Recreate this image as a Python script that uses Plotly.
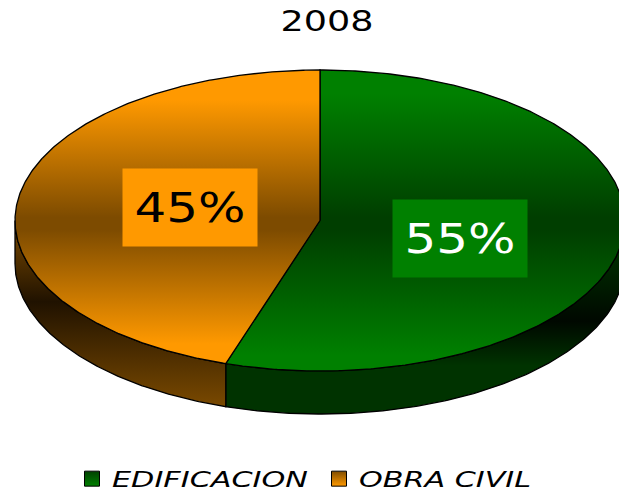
import numpy as np
import plotly.graph_objects as go

categories = ["EDIFICACION", "OBRA CIVIL"]
shares = [55, 45]
title_text = "2008"

top_scales = [
    [[0, "rgb(0,128,0)"], [0.08, "rgb(0,128,0)"], [0.49, "rgb(0,62,0)"], [0.53, "rgb(0,62,0)"], [0.95, "rgb(0,128,0)"], [1, "rgb(0,128,0)"]],
    [[0, "rgb(255,153,0)"], [0.1, "rgb(255,153,0)"], [0.49, "rgb(125,75,0)"], [0.53, "rgb(125,75,0)"], [0.91, "rgb(255,153,0)"], [1, "rgb(255,153,0)"]],
]
side_scales = [
    [[0, "rgb(0,64,0)"], [0.52, "rgb(0,8,0)"], [0.75, "rgb(0,51,0)"], [1, "rgb(0,51,0)"]],
    [[0, "rgb(128,77,0)"], [0.42, "rgb(32,18,0)"], [1, "rgb(128,77,0)"]],
]
legend_colors = ["rgb(0,128,0)", "rgb(255,153,0)"]
legend_dark = ["rgb(0,64,0)", "rgb(128,77,0)"]
label_colors = ["rgb(0,128,0)", "rgb(255,153,0)"]
label_text_colors = ["white", "black"]
label_pos = [(460, 238.5), (190, 207.5)]

W, H = 619, 491
cx, cy, rx, ry, depth = 320, 220.5, 305, 150.5, 43

def pt(theta):
    return cx + rx * np.sin(theta), cy - ry * np.cos(theta)

fig = go.Figure()
total = sum(shares)
edges = np.concatenate([[0], np.cumsum(shares) / total * 2 * np.pi])

for i in range(2):
    a, b = max(edges[i], np.pi / 2), min(edges[i + 1], 3 * np.pi / 2)
    t = np.linspace(a, b, 160)
    x, y = pt(t)
    fig.add_trace(go.Scatter(
        x=np.concatenate([x, x[::-1], x[:1]]),
        y=np.concatenate([y, y[::-1] + depth, y[:1]]),
        mode="lines", fill="toself", line=dict(color="black", width=1.3),
        fillgradient=dict(type="vertical", colorscale=side_scales[i], start=cy, stop=cy + ry + depth),
        showlegend=False, hoverinfo="skip"))

for i in range(2):
    t = np.linspace(edges[i], edges[i + 1], 360)
    x, y = pt(t)
    fig.add_trace(go.Scatter(
        x=np.concatenate([[cx], x, [cx]]),
        y=np.concatenate([[cy], y, [cy]]),
        mode="lines", fill="toself",
        line=dict(color="black", width=1.3),
        fillgradient=dict(type="vertical", colorscale=top_scales[i], start=cy - ry, stop=cy + ry),
        showlegend=False, hoverinfo="skip"))

# legend entries
for i in range(2):
    fig.add_trace(go.Scatter(
        x=[None], y=[None], mode="markers", name=categories[i],
        marker=dict(symbol="square", size=15, color=legend_dark[i],
                    gradient=dict(type="vertical", color=legend_colors[i]),
                    line=dict(color="black", width=1))))

for i in range(2):
    fig.add_annotation(
        x=label_pos[i][0], y=label_pos[i][1], xref="x", yref="y",
        text=f"{shares[i]}%", showarrow=False, width=132, height=75,
        bgcolor=label_colors[i], align="center", valign="middle",
        font=dict(family="DejaVu Sans", size=41, color=label_text_colors[i]))

fig.update_layout(
    width=W, height=H, margin=dict(l=0, r=0, t=0, b=0, pad=0, autoexpand=False),
    paper_bgcolor="white", plot_bgcolor="white",
    xaxis=dict(range=[0, W], visible=False, fixedrange=True),
    yaxis=dict(range=[H, 0], visible=False, fixedrange=True),
    title=dict(text=title_text, x=327 / W, xanchor="center", y=1 - 21 / H, yanchor="middle",
               font=dict(family="DejaVu Sans", size=29, color="black")),
    legend=dict(orientation="h", x=72 / W, xanchor="left", y=1 - 479 / H, yanchor="middle",
                entrywidth=202, entrywidthmode="pixels", borderwidth=0,
                font=dict(family="DejaVu Sans", size=21, color="black", style="italic"),
                bgcolor="rgba(0,0,0,0)"),
    showlegend=True,
)

post = """
document.body.style.margin = '0';
var widths = {'2008': 93, '45%': 111, '55%': 111, 'EDIFICACION': 196, 'OBRA CIVIL': 172};
document.querySelectorAll('svg text').forEach(function (t) {
  var w = widths[t.textContent];
  if (w) { t.setAttribute('textLength', w); t.setAttribute('lengthAdjust', 'spacingAndGlyphs'); }
});
"""
fig.write_html("out.html", config={"displayModeBar": False}, post_script=post)
